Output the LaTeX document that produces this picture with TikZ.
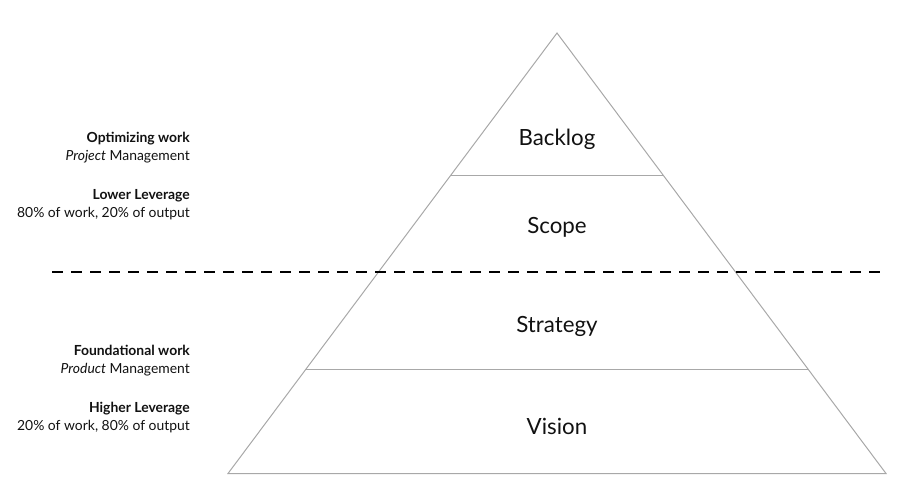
\documentclass[tikz,border=0pt]{standalone}
\usepackage{fontspec}
\usetikzlibrary{calc}
\setmainfont{Lato}
\definecolor{trigray}{HTML}{A8A8A8}
\definecolor{ink}{HTML}{111111}
\begin{document}
\begin{tikzpicture}[x=1pt,y=-1pt,
  tri/.style={draw=trigray,line width=1pt,line join=miter},
  layer/.style={text=ink,font=\fontsize{22.3}{26}\selectfont,anchor=base,inner sep=0pt},
  side/.style={text=ink,font=\fontsize{13.9}{17}\selectfont,anchor=base east,inner sep=0pt},
  divider/.style={draw=black,line width=2pt,dash pattern=on 11pt off 8pt}]
\useasboundingbox (0,0) rectangle (898,485);
\coordinate (apex) at (557,33);
\coordinate (bl) at (228,473.5);
\coordinate (br) at (886,473.5);
\draw[tri] (apex) -- (bl) -- (br) -- cycle;
\coordinate (l1) at ($(apex)!0.3239!(bl)$);
\coordinate (r1) at ($(apex)!0.3239!(br)$);
\coordinate (l2) at ($(apex)!0.7643!(bl)$);
\coordinate (r2) at ($(apex)!0.7643!(br)$);
\draw[tri] (l1) -- (r1);
\draw[tri] (l2) -- (r2);
\coordinate (dl) at (52,272);
\coordinate (dr) at (884,272);
\draw[divider] (dl) -- (dr);
\node[layer] (backlog) at (557,145.3) {Backlog};
\node[layer] (scope) at (557,233.3) {Scope};
\node[layer] (strategy) at (557,332.3) {Strategy};
\node[layer] (vision) at (557,434) {Vision};
\node[side] (opt) at (190,142.7) {\textbf{Optimizing work}};
\node[side] (proj) at (190,160.7) {\textit{Project} Management};
\node[side] (low) at (190,199) {\textbf{Lower Leverage}};
\node[side] (lowtxt) at (190,217.3) {80\% of work, 20\% of output};
\node[side] (found) at (190,355.7) {\textbf{Foundational work}};
\node[side] (prod) at (190,373.5) {\textit{Product} Management};
\node[side] (high) at (190,412) {\textbf{Higher Leverage}};
\node[side] (hightxt) at (190,430.3) {20\% of work, 80\% of output};
\end{tikzpicture}
\end{document}
